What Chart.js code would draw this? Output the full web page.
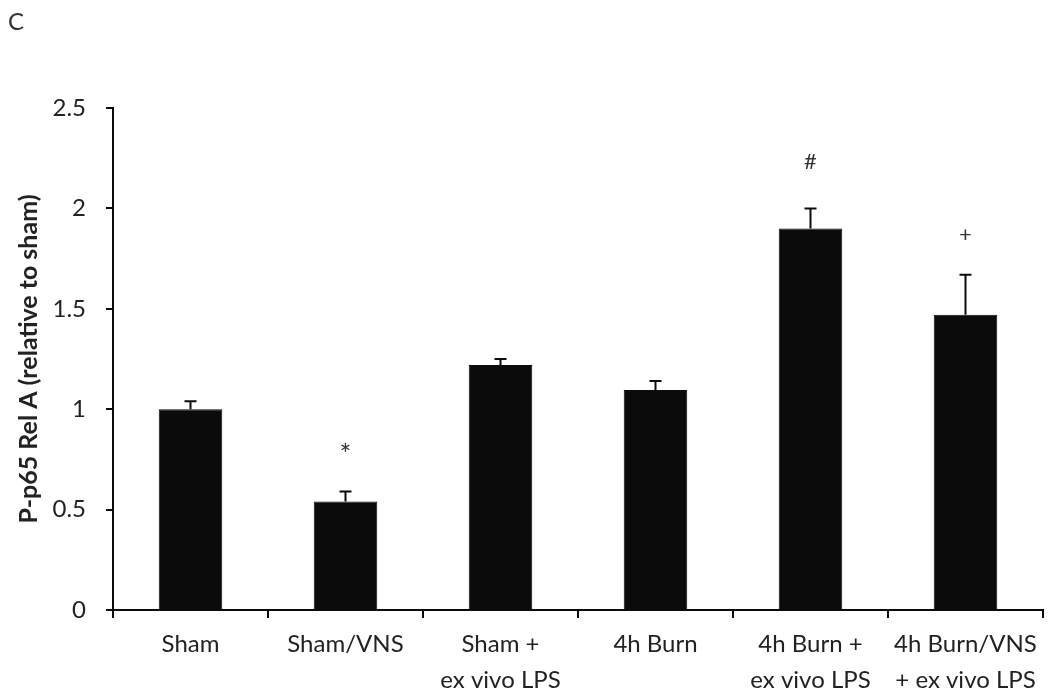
<!DOCTYPE html>
<html>
<head>
<meta charset="utf-8">
<script src="https://cdn.jsdelivr.net/npm/chart.js@4/dist/chart.umd.min.js"></script>
<style>
  html, body { margin: 0; padding: 0; background: #fff; }
  #wrap { position: relative; width: 1050px; height: 694px; }
  #panel { position: absolute; left: 8px; top: 6px; font: 24px Lato, sans-serif; color: #333; }
</style>
</head>
<body>
<div id="wrap">
  <div id="panel">C</div>
  <canvas id="chart" width="1050" height="694"></canvas>
</div>
<script>
// P-p65 Rel A, relative to sham; mean with upward SEM bar
var groups = [
  ["Sham"],
  ["Sham/VNS"],
  ["Sham +", "ex vivo LPS"],
  ["4h Burn"],
  ["4h Burn +", "ex vivo LPS"],
  ["4h Burn/VNS", "+ ex vivo LPS"]
];
var means = [1.0, 0.54, 1.22, 1.095, 1.90, 1.47];
var errs = [0.04, 0.05, 0.03, 0.045, 0.10, 0.20];
var marks = ["", "*", "", "", "#", "+"];
var markAt = [null, 0.80, null, null, 2.23, 1.87];
var yTicks = [0, 0.5, 1, 1.5, 2, 2.5];

(function () {
  var ink = "#0b0b0b";
  var font = "Lato, 'Open Sans', sans-serif";
  Chart.defaults.font.family = font;
  Chart.defaults.color = "#222";

  // error bars + significance marks
  var extras = {
    id: "extras",
    afterDatasetsDraw: function (chart) {
      var ctx = chart.ctx;
      var y = chart.scales.y;
      var meta = chart.getDatasetMeta(0);
      ctx.save();
      ctx.strokeStyle = ink;
      ctx.lineWidth = 2;
      meta.data.forEach(function (bar, i) {
        var top = y.getPixelForValue(means[i] + errs[i]);
        ctx.beginPath();
        ctx.moveTo(bar.x, bar.y);
        ctx.lineTo(bar.x, top);
        ctx.moveTo(bar.x - 6, top);
        ctx.lineTo(bar.x + 6, top);
        ctx.stroke();
        if (marks[i]) {
          var sz = marks[i] === "*" ? 28 : 22;
          ctx.fillStyle = "#333";
          ctx.font = sz + "px " + font;
          ctx.textAlign = "center";
          ctx.textBaseline = "middle";
          var dy = marks[i] === "*" ? sz * 0.25 : 0;
          ctx.fillText(marks[i], bar.x, y.getPixelForValue(markAt[i]) + dy);
        }
      });
      ctx.restore();
    }
  };

  new Chart(document.getElementById("chart"), {
    type: "bar",
    data: {
      labels: groups,
      datasets: [{
        data: means,
        backgroundColor: ink,
        borderColor: ink,
        borderWidth: 1,
        categoryPercentage: 0.82,
        barPercentage: 0.5
      }]
    },
    options: {
      responsive: false,
      animation: false,
      events: [],
      layout: { padding: { top: 108, right: 7, left: 0, bottom: 0 } },
      plugins: { legend: { display: false }, tooltip: { enabled: false } },
      scales: {
        x: {
          afterFit: function (s) { s.height = 84; },
          grid: { drawOnChartArea: false, drawTicks: true, tickLength: 8, color: ink, lineWidth: 2 },
          border: { color: ink, width: 2 },
          ticks: { font: { size: 24, lineHeight: 1.5 }, color: "#222", padding: 8, maxRotation: 0, autoSkip: false },
        },
        y: {
          min: 0,
          max: 2.5,
          afterFit: function (s) { s.width = 113; },
          afterBuildTicks: function (s) { s.ticks = yTicks.map(function (v) { return { value: v }; }); },
          grid: { drawOnChartArea: false, drawTicks: true, tickLength: 7, color: ink, lineWidth: 2 },
          border: { color: ink, width: 2 },
          ticks: {
            font: { size: 24 },
            color: "#222",
            padding: 20,
            callback: function (v) { return String(v); }
          },
          title: {
            display: true,
            text: "P-p65 Rel A (relative to sham)",
            font: { size: 25, weight: "bold" },
            color: "#222",
            padding: { top: 14, bottom: 0 }
          }
        }
      }
    },
    plugins: [extras]
  });
})();
</script>
</body>
</html>
